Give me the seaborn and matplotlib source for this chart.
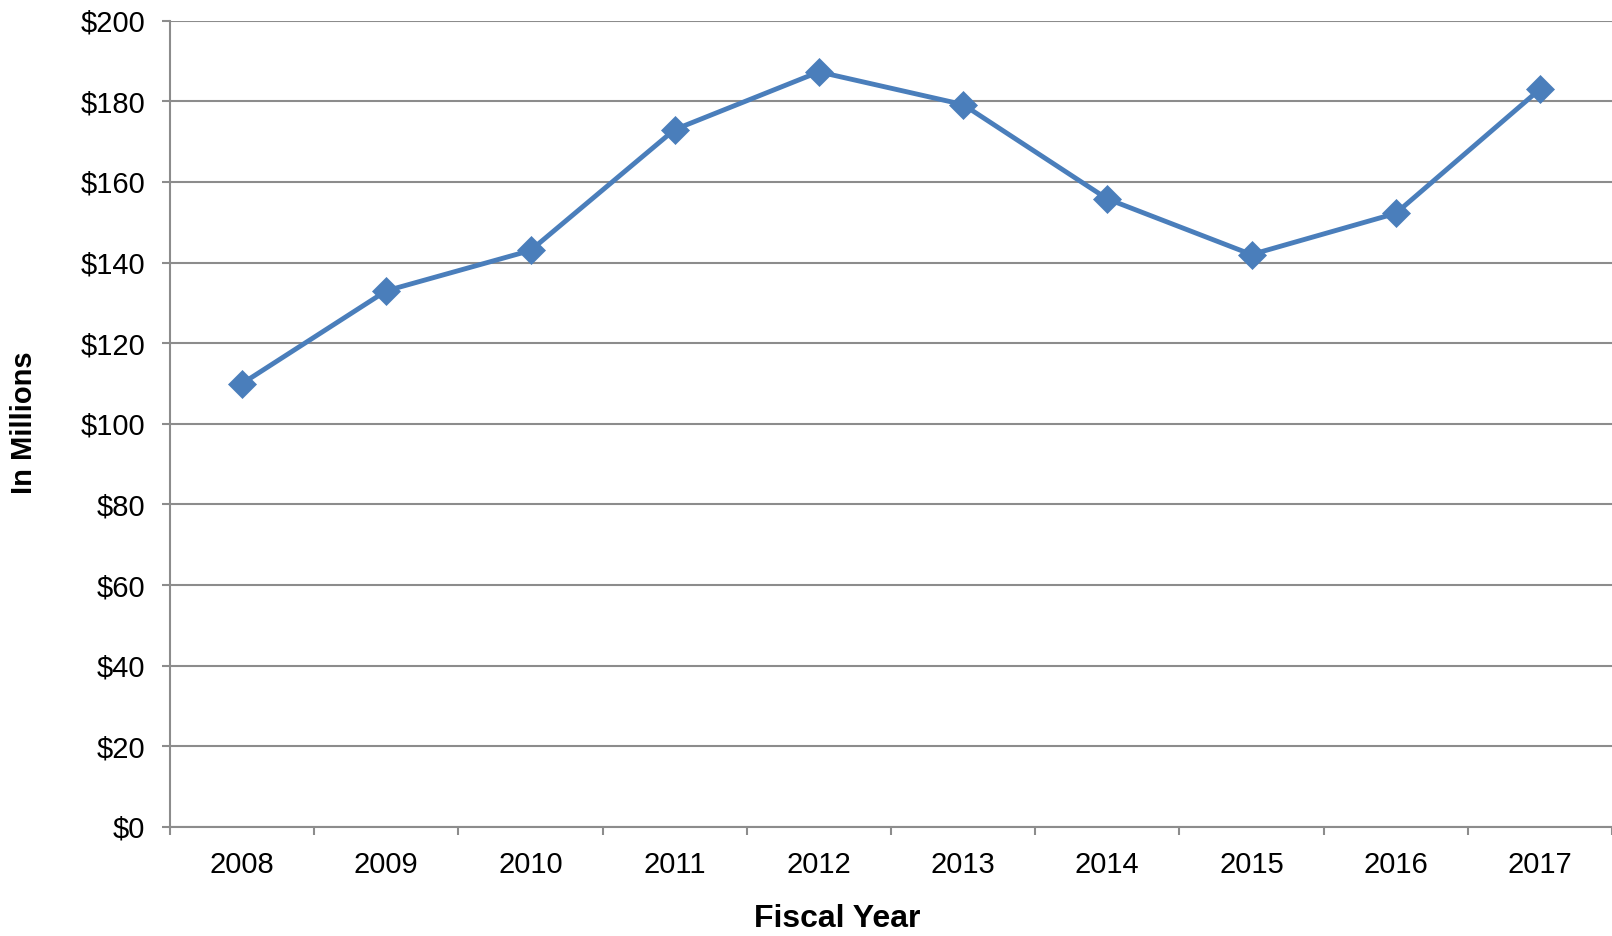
import numpy as np
import pandas as pd
import matplotlib
matplotlib.use("Agg")
import matplotlib.pyplot as plt
import seaborn as sns
from matplotlib.ticker import FixedLocator, FuncFormatter

# Annual totals, in millions of dollars
years = [2008, 2009, 2010, 2011, 2012, 2013, 2014, 2015, 2016, 2017]
amounts = [110, 133, 143, 173, 187.3, 179.2, 155.8, 142, 152.2, 183]
y_ticks = [0, 20, 40, 60, 80, 100, 120, 140, 160, 180, 200]

df = pd.DataFrame({"year": years, "amount": amounts})

sns.set_theme(style="white")
plt.rcParams["font.family"] = ["Liberation Sans", "DejaVu Sans"]
plt.rcParams["text.color"] = "black"

grid_color = "#8c8c8c"
line_color = "#4a7ebb"

fig = plt.figure(figsize=(16.12, 9.36), dpi=100)
ax = fig.add_axes([170 / 1612, 1 - 827 / 936, 1442 / 1612, (827 - 20.7) / 936])

sns.lineplot(data=df, x="year", y="amount", ax=ax, color=line_color,
             linewidth=3.5, marker="D", markersize=14,
             markeredgecolor=line_color, markeredgewidth=0.5, zorder=3)

ax.set_xlim(years[0] - 0.5, years[-1] + 0.5)
ax.set_ylim(0, 200)

# Horizontal gridlines
ax.yaxis.set_major_locator(FixedLocator(y_ticks))
ax.yaxis.set_major_formatter(FuncFormatter(lambda v, p: f"${int(v)}"))
ax.grid(axis="y", color=grid_color, linewidth=1.5)
ax.grid(axis="x", visible=False)
ax.set_axisbelow(True)

# Category labels centred, tick marks on the boundaries between years
ax.set_xticks(years)
ax.set_xticklabels([str(y) for y in years])
ax.set_xticks([y - 0.5 for y in years] + [years[-1] + 0.5], minor=True)
ax.tick_params(axis="x", which="major", length=0, pad=17, labelsize=21,
               labelcolor="black")
ax.tick_params(axis="x", which="minor", length=6, width=1.5, color=grid_color,
               direction="out", bottom=True)
ax.tick_params(axis="y", which="major", length=6, width=1.5, color=grid_color,
               direction="out", left=True, pad=12, labelsize=21,
               labelcolor="black")

for side in ["top", "right"]:
    ax.spines[side].set_visible(False)
for side in ["left", "bottom"]:
    ax.spines[side].set_color(grid_color)
    ax.spines[side].set_linewidth(1.5)

ax.set_xlabel("")
ax.set_ylabel("")
fig.text(837 / 1612, 1 - 919 / 936, "Fiscal Year", ha="center", va="center",
         fontsize=23, fontweight="bold", color="black")
fig.text(24 / 1612, 1 - 423 / 936, "In Millions", ha="center", va="center",
         rotation=90, fontsize=21, fontweight="bold", color="black")

fig.savefig("out.png", dpi=100, facecolor="white")
